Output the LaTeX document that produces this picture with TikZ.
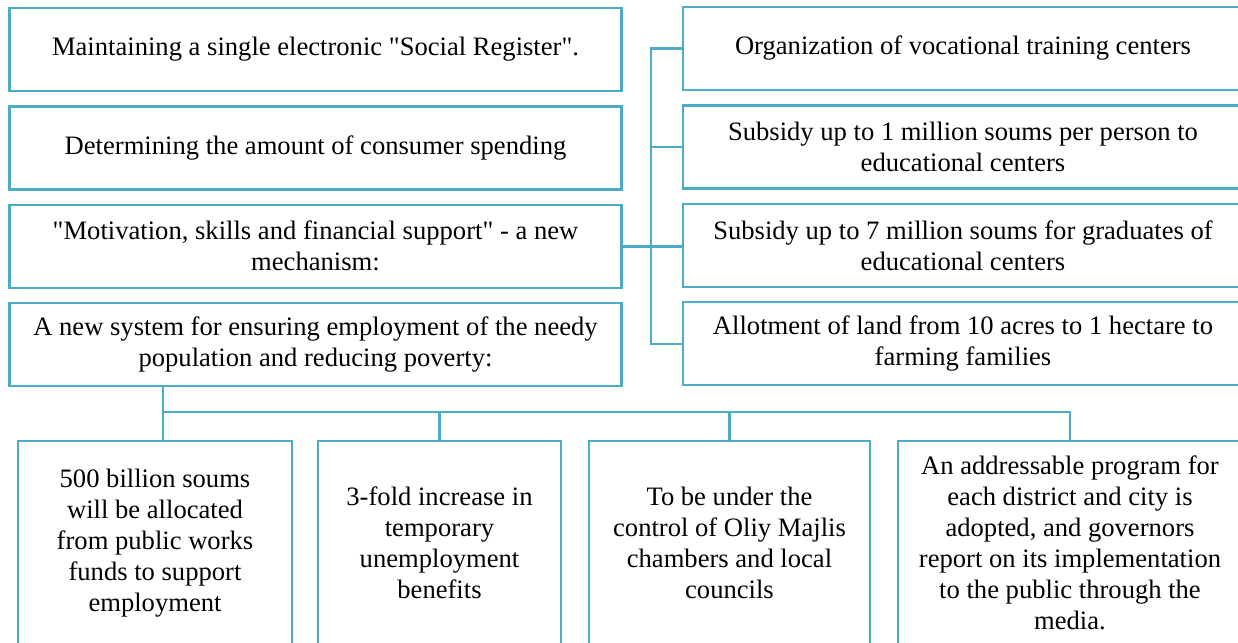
\documentclass[tikz,border=0pt]{standalone}
\usepackage{fontspec}
\setmainfont{Liberation Serif}
\usetikzlibrary{positioning}
\definecolor{boxline}{RGB}{75,172,198}

\begin{document}
\begin{tikzpicture}[
        x=0.5pt, y=-0.5pt,
        node distance=6.5pt,
        font=\fontsize{13.3}{15.5}\selectfont,
        leftbox/.style={rectangle, draw=boxline, line width=1.2pt, minimum width=306pt, minimum height=41.5pt, align=center, inner sep=0pt},
        rightbox/.style={rectangle, draw=boxline, line width=1.2pt, minimum width=280pt, minimum height=41.5pt, align=center, inner sep=0pt},
        lowbox/.style={rectangle, draw=boxline, line width=1.2pt, minimum height=102pt, align=center, inner sep=0pt},
        link/.style={draw=boxline, line width=1.2pt}
    ]
        \useasboundingbox (0,0) rectangle (1238,643);

        % left column
        \node[leftbox] (register) at (315.5,49.5) {Maintaining a single electronic \textquotedbl Social Register\textquotedbl.};
        \node[leftbox, below=of register] (spending) {Determining the amount of consumer spending};
        \node[leftbox, below=of spending] (mechanism) {\textquotedbl Motivation, skills and financial support\textquotedbl{} - a new\\mechanism:};
        \node[leftbox, below=of mechanism] (system) {A new system for ensuring employment of the needy\\population and reducing poverty:};

        % right column
        \node[rightbox] (centers) at (963,48.5) {Organization of vocational training centers};
        \node[rightbox, below=of centers] (subsidyone) {Subsidy up to 1 million soums per person to\\educational centers};
        \node[rightbox, below=of subsidyone] (subsidyseven) {Subsidy up to 7 million soums for graduates of\\educational centers};
        \node[rightbox, below=of subsidyseven] (land) {Allotment of land from 10 acres to 1 hectare to\\farming families};

        % bottom row
        \node[lowbox, minimum width=137pt] (funds) at (155,543) {500 billion soums\\will be allocated\\from public works\\funds to support\\employment};
        \node[lowbox, minimum width=121.5pt] (benefits) at (439.5,543) {3-fold increase in\\temporary\\unemployment\\benefits};
        \node[lowbox, minimum width=140.5pt] (control) at (729.5,543) {To be under the\\control of Oliy Majlis\\chambers and local\\councils};
        \node[lowbox, minimum width=172pt] (program) at (1070,543) {An addressable program for\\each district and city is\\adopted, and governors\\report on its implementation\\to the public through the\\media.};

        % connectors
        \draw[link] (centers.west) -- ++(-31,0) |- (land.west);
        \draw[link] (subsidyone.west) -- ++(-31,0);
        \draw[link] (mechanism.east) -- (mechanism.east -| subsidyseven.west);

        \coordinate (bus) at (163,412);
        \draw[link] (system.south -| bus) -- (funds.north -| bus);
        \draw[link] (bus) -- (program.north |- bus) -- (program.north);
        \draw[link] (benefits.north |- bus) -- (benefits.north);
        \draw[link] (control.north |- bus) -- (control.north);
    \end{tikzpicture}
\end{document}
